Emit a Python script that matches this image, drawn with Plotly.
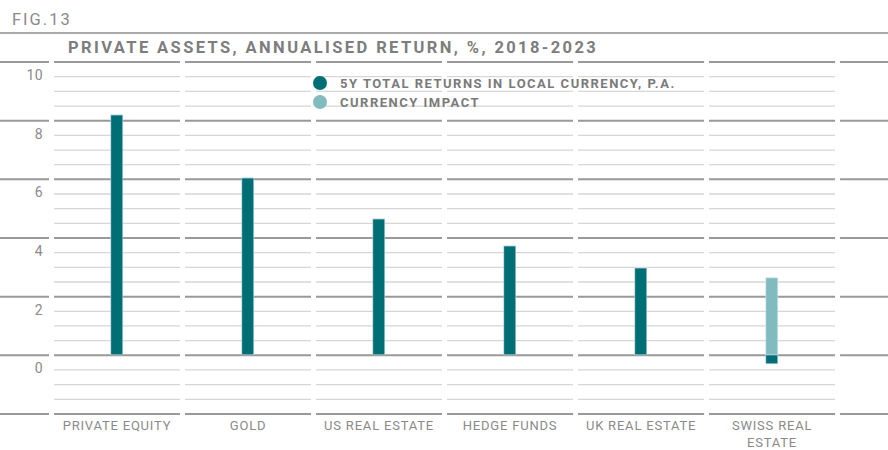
import plotly.graph_objects as go

# data
categories = ["PRIVATE EQUITY", "GOLD", "US REAL ESTATE", "HEDGE FUNDS",
              "UK REAL ESTATE", "SWISS REAL<br>ESTATE"]
local_returns = [8.18, 6.03, 4.64, 3.72, 2.97, -0.30]
currency_impact = [0, 0, 0, 0, 0, 2.63]
y_ticks = [0, 2, 4, 6, 8, 10]

DARK = "#006e75"
LIGHT = "#80bcbf"
GREY_TXT = "#8a8a8a"
FONT = "Roboto, Liberation Sans, sans-serif"

x_idx = list(range(len(categories)))

fig = go.Figure()
fig.add_trace(go.Bar(x=x_idx, y=local_returns, marker_color=DARK, width=0.092,
                     showlegend=False, hoverinfo="y"))
fig.add_trace(go.Bar(x=x_idx, y=currency_impact, marker_color=LIGHT, width=0.092,
                     showlegend=False, hoverinfo="y"))

# circle legend markers via empty scatter traces, one legend per row
fig.add_trace(go.Scatter(x=[None], y=[None], mode="markers", name="5Y TOTAL RETURNS IN LOCAL CURRENCY, P.A.",
                         marker=dict(color=DARK, size=14), legend="legend"))
fig.add_trace(go.Scatter(x=[None], y=[None], mode="markers", name="CURRENCY IMPACT",
                         marker=dict(color=LIGHT, size=14), legend="legend2"))

x_min, x_max = -0.893, 5.885
half = 0.481


def py(px):
    # pixel row -> paper y (plot area spans rows 60..416)
    return (416 - px) / 356


# segmented gridlines: one block per column, minor lines only under the categories
shapes = []
columns = [-1] + x_idx + [len(categories)]
for col in columns:
    x0 = max(col - half, x_min)
    x1 = min(col + half, x_max)
    with_minor = 0 <= col < len(categories)
    for v in [s / 2 for s in range(-4, 21)]:
        major = v % 2 == 0
        if not major and not with_minor:
            continue
        shapes.append(dict(type="line", xref="x", yref="y", x0=x0, x1=x1, y0=v, y1=v,
                           layer="below",
                           line=dict(color="#999999" if major else "#d6d6d6",
                                     width=2 if major else 1.3)))

# white patches behind the legend rows
shapes.append(dict(type="rect", xref="paper", yref="paper", x0=307 / 888, x1=677 / 888,
                   y0=py(91), y1=py(70), layer="below", fillcolor="white", line_width=0))
shapes.append(dict(type="rect", xref="paper", yref="paper", x0=307 / 888, x1=485 / 888,
                   y0=py(112), y1=py(91), layer="below", fillcolor="white", line_width=0))

# rule under the figure number
shapes.append(dict(type="line", xref="paper", yref="paper", x0=0, x1=1,
                   y0=py(33), y1=py(33), line=dict(color="#aaaaaa", width=2)))

annotations = [dict(text="FIG.13", x=16 / 888, y=py(19), xref="paper", yref="paper",
                    xanchor="left", yanchor="middle", showarrow=False,
                    font=dict(size=16.5, color=GREY_TXT, family=FONT))]
annotations += [dict(text=str(t), x=-0.55, y=t, xref="x", yref="y", xanchor="right",
                     yanchor="middle", yshift=-13, showarrow=False,
                     font=dict(size=14, color=GREY_TXT, family=FONT))
                for t in y_ticks]

legend_font = dict(size=13, color="#7a7a7a", family=FONT, weight="bold")

fig.update_layout(
    width=888, height=450,
    margin=dict(l=0, r=0, t=60, b=34),
    plot_bgcolor="white", paper_bgcolor="white",
    barmode="relative", bargap=0,
    font=dict(family=FONT, color=GREY_TXT),
    title=dict(text="<b>PRIVATE ASSETS, ANNUALISED RETURN, %, 2018-2023</b>",
               x=68 / 888, xanchor="left", xref="container",
               y=1 - 47 / 450, yanchor="middle", yref="container",
               font=dict(size=16.5, color="#7d7d7d", family=FONT)),
    xaxis=dict(range=[x_min, x_max], tickvals=x_idx, ticktext=categories,
               showgrid=False, zeroline=False, showline=False, ticks="",
               tickfont=dict(size=13, color=GREY_TXT), fixedrange=True),
    yaxis=dict(range=[-2.07, 10.07], showgrid=False, zeroline=False, showline=False,
               showticklabels=False, fixedrange=True),
    legend=dict(x=300 / 888, xanchor="left", y=py(83), yanchor="middle",
                orientation="h", bgcolor="rgba(0,0,0,0)", entrywidth=350,
                itemclick=False, font=legend_font),
    legend2=dict(x=300 / 888, xanchor="left", y=py(102), yanchor="middle",
                 orientation="h", bgcolor="rgba(0,0,0,0)", entrywidth=160,
                 itemclick=False, font=legend_font),
    shapes=shapes,
    annotations=annotations,
)

# tracking on the text, as in the printed figure; no page margin
css = (".gtitle{letter-spacing:2.4px}"
       "text.legendtext,.legend2 text,.legend text{letter-spacing:1.5px !important}"
       ".xtick text{letter-spacing:0.8px}"
       ".annotation[data-index=\"0\"] text{letter-spacing:2px}"
       ".annotation text{letter-spacing:0.5px}")
post = ("document.body.style.margin='0';"
        "var s=document.createElement('style');s.innerHTML='" + css + "';document.head.appendChild(s);"
        "document.querySelectorAll('text.legendtext').forEach(function(t){t.style.letterSpacing='1.5px';});")

fig.write_html("out.html", post_script=post, config={"displayModeBar": False})
